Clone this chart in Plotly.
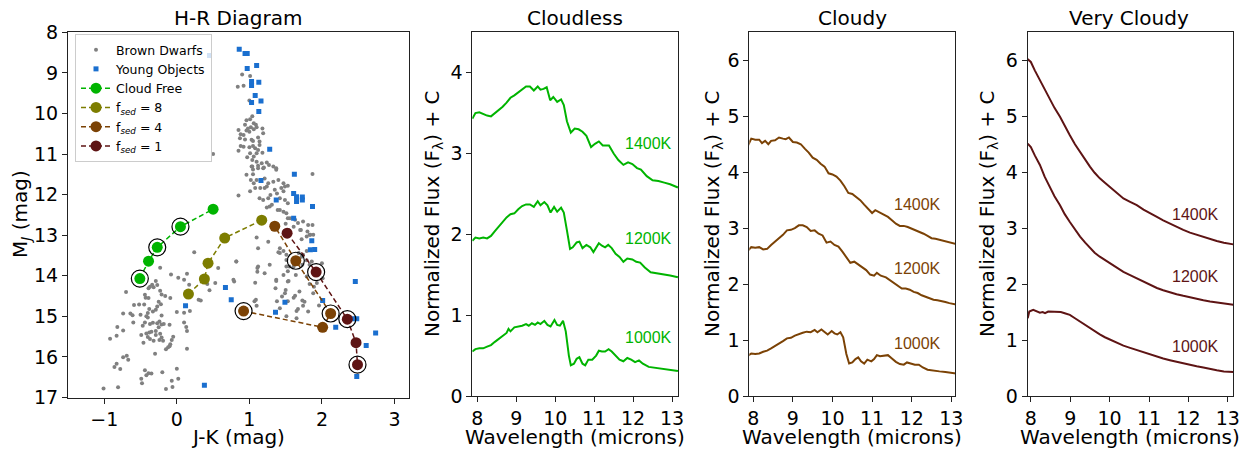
import plotly.graph_objects as go

# ---------------- DATA ----------------
brown_dwarfs = [
    (-0.08,13.97),(0.02,14.05),(0.14,13.95),(0.10,14.10),(0.17,14.22),(-0.34,14.22),(-0.37,14.27),(-0.39,14.31),
    (-0.29,14.13),(-0.27,14.23),(-0.32,14.28),(-0.70,14.40),(-0.23,14.37),(-0.21,14.46),(-0.16,14.50),(-0.09,14.55),
    (-0.25,14.64),(-0.22,14.70),(-0.27,14.76),(-0.44,14.47),(-0.43,14.54),(-0.39,14.55),(-0.59,14.72),(-0.52,14.71),
    (-0.45,14.71),(-0.38,14.82),(-0.40,14.92),(-0.33,14.88),(-0.29,14.84),(-0.74,14.93),(-0.64,14.93),(-0.61,14.97),
    (-0.50,14.96),(-0.42,15.00),(-0.40,15.03),(-0.21,14.98),(0.00,14.89),(0.10,14.91),(0.18,14.87),(-0.60,15.15),
    (-0.44,15.15),(-0.37,15.19),(-0.33,15.16),(-0.27,15.17),(-0.24,15.13),(-0.21,15.20),(-0.18,15.19),(-0.10,15.21),
    (-0.25,15.27),(-0.29,15.36),(-0.47,15.23),(-0.82,15.26),(-0.74,15.35),(0.10,15.15),(0.13,15.26),(0.14,15.36),
    (-0.92,15.55),(-0.83,15.48),(-0.49,15.46),(-0.42,15.42),(-0.38,15.40),(-0.35,15.38),(-0.40,15.51),(-0.37,15.56),
    (-0.29,15.46),(-0.23,15.43),(-0.21,15.52),(-0.19,15.60),(-0.24,15.58),(-0.32,15.60),(-0.46,15.65),(-0.05,15.50),
    (-0.07,15.58),(-0.09,15.69),(-0.12,15.76),(-0.15,15.81),(-0.10,15.74),(0.14,15.80),(-0.30,15.92),(-0.74,16.01),
    (-0.69,15.97),(-0.67,16.07),(-0.83,16.17),(-0.86,16.25),(-0.78,16.30),(-0.44,16.33),(-0.39,16.40),(-0.42,16.45),
    (-0.35,16.41),(-0.20,16.38),(0.00,16.29),(0.02,16.54),(-0.07,16.59),(-0.49,16.54),(-0.48,16.65),(-1.01,16.78),
    (-0.81,16.75),(-0.15,16.79),(-0.06,16.74),
    (0.42,14.20),(0.53,14.18),(0.45,14.36),(0.79,14.14),(0.30,14.59),(0.33,14.61),(1.07,14.63),(1.10,14.74),
    (1.37,14.13),(1.36,14.31),(1.50,14.35),(1.54,14.13),(1.63,14.49),(1.61,14.54),(1.53,14.63),(1.73,14.61),
    (1.76,14.64),(1.74,14.74),(1.67,14.82),(1.65,14.87),(1.81,14.88),(1.96,14.73),(1.83,14.20),(1.89,14.27),(1.65,15.05),
    (0.24,13.42),(-0.23,13.80),(0.82,13.65),(0.57,13.81),(0.18,14.43),(1.11,13.81),(1.11,13.90),(1.08,14.17),
    (1.09,14.59),(0.50,11.00),(1.88,14.43),(1.69,14.39),(1.49,14.43),(1.51,15.00),(1.42,14.80),(1.38,14.63),(1.45,14.51),
    (0.90,9.04),(1.01,9.08),(0.84,9.34),(0.92,9.32),(1.00,9.68),(1.04,10.07),(1.01,10.14),(0.96,10.17),
    (1.06,10.24),(1.09,10.28),(0.94,10.28),(0.98,10.37),(1.02,10.34),(0.96,10.42),(0.85,10.41),(0.88,10.51),
    (0.92,10.53),(1.00,10.45),(1.06,10.39),(1.10,10.34),(1.18,10.37),(1.19,10.49),(0.87,10.61),(0.94,10.64),
    (1.03,10.65),(1.05,10.68),(1.12,10.59),(1.14,10.69),(0.92,10.82),(0.88,10.80),(1.00,10.83),(1.05,10.80),
    (1.08,10.86),(1.12,10.90),(1.14,10.78),(0.85,10.92),(1.01,10.98),(1.10,10.98),(1.18,10.97),(1.06,11.06),
    (0.97,11.08),(1.04,11.15),(1.10,11.19),(1.17,11.23),(1.24,11.21),(1.03,11.31),(1.12,11.29),(1.19,11.35),
    (1.27,11.27),(1.33,11.31),(1.37,11.35),(1.05,11.38),
    (1.04,11.31),(1.12,11.35),(1.20,11.33),(1.37,11.39),(0.96,11.51),(1.05,11.50),(1.10,11.64),(1.21,11.60),
    (1.26,11.72),(1.33,11.68),(1.40,11.64),(1.47,11.72),(1.53,11.78),(1.44,11.84),(1.35,11.88),(1.21,11.84),
    (1.08,11.84),(1.01,11.92),(0.85,12.02),(1.14,12.09),(1.26,12.09),(1.42,12.09),(1.49,12.13),(1.53,12.21),
    (1.31,12.25),(1.24,12.32),(1.39,12.38),(1.47,12.42),(1.51,12.46),(1.53,12.58),(1.63,12.62),(1.67,12.70),
    (1.74,12.66),(1.81,12.75),(1.87,12.75),(1.71,12.87),(1.80,12.91),(1.83,12.99),(1.88,12.99),(1.79,13.03),
    (1.10,13.06),(1.26,13.16),(1.12,13.32),(1.42,13.32),(1.40,13.42),(1.47,13.39),(1.51,13.48),(1.74,13.48),
    (1.79,13.39),(1.86,13.65),(1.83,13.73),(1.73,13.73),(1.51,13.77),(1.53,13.89),(1.47,13.98),(0.82,13.65),
    (1.12,13.77),(1.28,13.73),(1.37,14.10),(0.78,14.10),(1.53,14.14),(1.64,13.98),(1.79,14.02),(1.21,13.94),
    (1.87,11.49),(1.02,11.64),(1.06,11.72),(1.15,11.84),(1.24,11.80),(1.29,12.01),(1.38,11.97),(1.47,11.92),
    (1.49,11.80),(1.19,12.13),(1.28,12.29),(1.42,12.38),(1.50,12.72),(1.54,12.87),(1.56,12.58),(1.61,12.79),
    (1.70,12.87),(1.72,13.10),(1.84,12.99),(1.68,13.44),(1.72,13.53),(1.79,13.62),(2.00,13.69),(2.01,14.06),
    (1.93,14.18),(1.55,13.77),(1.51,13.61),(1.42,13.44),(1.61,13.77),
]

young_objects = [
    (0.86,8.42),(0.94,8.52),(0.97,8.52),(0.45,8.57),(0.97,8.89),(1.10,8.82),(1.03,9.21),(1.03,9.31),
    (1.13,9.23),(1.08,9.56),(1.16,9.69),(1.03,9.73),(1.13,9.95),(1.28,10.88),(1.16,11.65),(1.62,11.50),
    (1.61,11.97),(1.65,12.05),(1.65,12.17),(1.73,12.06),(1.73,12.13),(1.37,12.13),(1.87,12.29),(1.61,12.58),
    (1.86,13.14),(1.84,13.36),(1.90,13.35),(2.46,14.14),(0.67,14.29),(0.75,14.59),(0.12,14.74),(1.49,14.65),
    (1.36,14.90),(2.44,15.06),(2.48,15.06),(2.19,15.27),(2.74,15.41),(2.61,15.72),(2.48,16.48),(0.38,16.70),
    (2.01,14.61),
]

model_names = ["Cloud Free", "f<sub><i>sed</i></sub> = 8", "f<sub><i>sed</i></sub> = 4", "f<sub><i>sed</i></sub> = 1"]
model_jk = [
    [-0.51, -0.39, -0.27, 0.05, 0.50],
    [0.16, 0.38, 0.43, 0.66, 1.17],
    [0.92, 2.01, 2.12, 1.64, 1.35],
    [1.52, 1.92, 2.35, 2.47, 2.49],
]
model_mj = [
    [14.07, 13.64, 13.30, 12.79, 12.36],
    [14.45, 14.08, 13.69, 13.07, 12.63],
    [14.87, 15.27, 14.93, 13.63, 12.78],
    [12.95, 13.91, 15.07, 15.65, 16.19],
]
circled_idx = [[0, 2, 3], [], [0, 2, 3], [1, 2, 4]]

cloudless_1400 = [(7.87,3.43),(7.95,3.50),(8.05,3.51),(8.15,3.49),(8.25,3.47),(8.35,3.46),(8.45,3.50),(8.55,3.53),
    (8.65,3.58),(8.75,3.63),(8.85,3.69),(8.95,3.72),(9.05,3.76),(9.15,3.80),(9.25,3.83),(9.35,3.83),(9.45,3.78),
    (9.55,3.83),(9.62,3.79),(9.70,3.80),(9.78,3.82),(9.87,3.66),(9.95,3.70),(10.05,3.64),(10.15,3.67),(10.22,3.60),
    (10.30,3.40),(10.40,3.26),(10.50,3.31),(10.60,3.30),(10.70,3.27),(10.80,3.22),(10.92,3.08),(11.02,3.12),
    (11.12,3.15),(11.22,3.10),(11.30,3.10),(11.38,3.10),(11.50,3.00),(11.62,2.92),(11.75,2.86),(11.87,2.89),
    (11.98,2.87),(12.10,2.82),(12.20,2.80),(12.35,2.72),(12.50,2.67),(12.65,2.66),(12.80,2.64),(12.95,2.62),(13.15,2.58)]
cloudless_1200 = [(7.87,1.92),(7.95,1.96),(8.05,1.95),(8.15,1.96),(8.25,1.95),(8.35,1.98),(8.45,2.04),(8.55,2.10),
    (8.65,2.16),(8.75,2.21),(8.85,2.25),(8.95,2.26),(9.05,2.31),(9.15,2.35),(9.25,2.37),(9.35,2.37),(9.45,2.34),
    (9.55,2.41),(9.62,2.36),(9.72,2.40),(9.80,2.36),(9.88,2.27),(9.97,2.34),(10.05,2.28),(10.15,2.33),(10.22,2.27),
    (10.30,2.05),(10.38,1.82),(10.45,1.84),(10.55,1.90),(10.62,1.91),(10.70,1.83),(10.80,1.87),(10.90,1.84),
    (10.98,1.78),(11.05,1.83),(11.12,1.89),(11.20,1.86),(11.28,1.84),(11.36,1.87),(11.45,1.83),(11.55,1.76),
    (11.65,1.72),(11.75,1.66),(11.85,1.70),(11.98,1.69),(12.08,1.66),(12.18,1.65),(12.30,1.59),(12.45,1.53),
    (12.60,1.52),(12.75,1.51),(12.95,1.49),(13.15,1.47)]
cloudless_1000 = [(7.87,0.55),(7.95,0.58),(8.05,0.59),(8.15,0.59),(8.25,0.61),(8.35,0.63),(8.45,0.67),(8.55,0.71),
    (8.65,0.75),(8.75,0.78),(8.80,0.83),(8.85,0.80),(8.95,0.85),(9.05,0.86),(9.15,0.87),(9.25,0.89),(9.32,0.87),
    (9.40,0.90),(9.48,0.88),(9.55,0.91),(9.62,0.89),(9.72,0.93),(9.80,0.88),(9.88,0.86),(9.98,0.94),(10.05,0.88),
    (10.12,0.87),(10.20,0.93),(10.27,0.80),(10.35,0.50),(10.40,0.38),(10.48,0.40),(10.55,0.46),(10.62,0.48),
    (10.70,0.40),(10.77,0.38),(10.85,0.45),(10.95,0.45),(11.05,0.50),(11.12,0.56),(11.20,0.55),(11.28,0.55),
    (11.37,0.58),(11.45,0.55),(11.55,0.50),(11.65,0.45),(11.75,0.43),(11.85,0.47),(11.95,0.45),(12.05,0.42),
    (12.15,0.44),(12.25,0.40),(12.40,0.36),(12.55,0.35),(12.70,0.34),(12.85,0.33),(13.00,0.32),(13.15,0.31)]

cloudy_1400 = [(7.87,4.48),(7.95,4.60),(8.05,4.58),(8.15,4.58),(8.22,4.52),(8.30,4.56),(8.38,4.50),(8.45,4.56),
    (8.55,4.57),(8.65,4.62),(8.75,4.60),(8.82,4.59),(8.90,4.62),(9.00,4.54),(9.10,4.53),(9.20,4.50),(9.30,4.42),
    (9.40,4.35),(9.50,4.26),(9.60,4.22),(9.70,4.15),(9.80,4.10),(9.90,3.98),(10.00,3.96),(10.10,3.92),(10.20,3.85),
    (10.30,3.75),(10.40,3.63),(10.50,3.61),(10.60,3.56),(10.70,3.50),(10.80,3.42),(10.90,3.35),(11.00,3.27),
    (11.08,3.32),(11.20,3.27),(11.30,3.24),(11.40,3.20),(11.50,3.14),(11.60,3.08),(11.70,3.04),(11.80,3.04),
    (11.90,3.02),(12.00,2.99),(12.10,2.96),(12.20,2.94),(12.30,2.90),(12.40,2.86),(12.50,2.82),(12.60,2.81),
    (12.70,2.79),(12.80,2.77),(12.90,2.76),(13.00,2.74),(13.15,2.71)]
cloudy_1200 = [(7.87,2.60),(7.95,2.66),(8.05,2.65),(8.15,2.66),(8.25,2.62),(8.35,2.63),(8.45,2.70),(8.55,2.76),
    (8.65,2.82),(8.75,2.88),(8.85,2.96),(8.95,2.97),(9.05,3.00),(9.15,3.05),(9.25,3.05),(9.35,3.02),(9.45,2.95),
    (9.55,2.96),(9.65,2.90),(9.75,2.87),(9.85,2.74),(9.95,2.76),(10.05,2.70),(10.15,2.67),(10.25,2.58),(10.35,2.47),
    (10.45,2.38),(10.55,2.40),(10.65,2.35),(10.75,2.30),(10.85,2.25),(10.95,2.17),(11.05,2.15),(11.12,2.20),
    (11.22,2.15),(11.35,2.12),(11.45,2.07),(11.55,2.02),(11.65,1.97),(11.75,1.92),(11.85,1.92),(11.95,1.90),
    (12.05,1.86),(12.15,1.84),(12.25,1.80),(12.35,1.77),(12.45,1.74),(12.55,1.72),(12.65,1.71),(12.75,1.70),
    (12.85,1.68),(12.95,1.66),(13.15,1.63)]
cloudy_1000 = [(7.87,0.72),(7.95,0.76),(8.05,0.75),(8.15,0.76),(8.25,0.79),(8.35,0.81),(8.45,0.85),(8.55,0.89),
    (8.65,0.94),(8.75,0.98),(8.85,1.03),(8.95,1.04),(9.05,1.08),(9.15,1.11),(9.25,1.13),(9.35,1.15),(9.45,1.14),
    (9.55,1.18),(9.62,1.14),(9.72,1.19),(9.80,1.15),(9.88,1.10),(9.98,1.16),(10.05,1.12),(10.12,1.10),(10.20,1.14),
    (10.27,1.05),(10.35,0.75),(10.42,0.58),(10.50,0.60),(10.58,0.66),(10.65,0.69),(10.72,0.62),(10.80,0.58),
    (10.88,0.65),(10.98,0.62),(11.05,0.66),(11.12,0.73),(11.20,0.71),(11.30,0.72),(11.40,0.73),(11.50,0.67),
    (11.60,0.61),(11.70,0.57),(11.80,0.56),(11.88,0.60),(11.98,0.58),(12.08,0.56),(12.18,0.56),(12.28,0.51),
    (12.40,0.47),(12.55,0.45),(12.70,0.44),(12.85,0.43),(13.00,0.41),(13.15,0.40)]

verycloudy_1400 = [(7.90,6.03),(8.00,5.97),(8.10,5.82),(8.23,5.64),(8.35,5.48),(8.48,5.32),(8.60,5.15),(8.74,4.99),
    (8.86,4.82),(8.99,4.66),(9.12,4.50),(9.25,4.36),(9.38,4.22),(9.50,4.10),(9.62,3.99),(9.75,3.89),(9.88,3.81),
    (10.00,3.74),(10.18,3.63),(10.35,3.53),(10.52,3.47),(10.69,3.41),(10.86,3.33),(11.03,3.26),(11.20,3.20),
    (11.36,3.14),(11.53,3.08),(11.70,3.02),(11.87,2.97),(12.04,2.92),(12.21,2.88),(12.38,2.85),(12.55,2.81),
    (12.72,2.77),(12.90,2.74),(13.14,2.71)]
verycloudy_1200 = [(7.92,4.51),(8.00,4.45),(8.10,4.30),(8.23,4.13),(8.35,3.92),(8.48,3.74),(8.60,3.57),(8.74,3.41),
    (8.86,3.25),(8.99,3.11),(9.12,2.97),(9.25,2.85),(9.38,2.74),(9.50,2.64),(9.62,2.56),(9.75,2.49),(9.88,2.43),
    (10.00,2.37),(10.18,2.29),(10.35,2.22),(10.52,2.16),(10.69,2.10),(10.86,2.04),(11.03,1.98),(11.20,1.93),
    (11.36,1.89),(11.53,1.85),(11.70,1.82),(11.87,1.79),(12.04,1.76),(12.21,1.73),(12.38,1.71),(12.55,1.69),
    (12.72,1.67),(12.90,1.65),(13.14,1.63)]
verycloudy_1000 = [(7.92,1.39),(7.96,1.51),(8.06,1.54),(8.15,1.52),(8.23,1.49),(8.30,1.50),(8.36,1.48),(8.44,1.51),
    (8.55,1.51),(8.65,1.51),(8.76,1.50),(8.86,1.48),(8.99,1.45),(9.12,1.39),(9.25,1.33),(9.38,1.27),(9.50,1.21),
    (9.62,1.15),(9.75,1.10),(9.88,1.05),(10.00,1.01),(10.18,0.96),(10.35,0.90),(10.52,0.86),(10.69,0.82),
    (10.86,0.78),(11.03,0.74),(11.20,0.71),(11.36,0.67),(11.53,0.64),(11.70,0.61),(11.87,0.58),(12.04,0.55),
    (12.21,0.53),(12.38,0.51),(12.55,0.48),(12.72,0.46),(12.90,0.44),(13.14,0.43)]

temp_labels = ["1400K", "1200K", "1000K"]
label_pos = {  # (wavelength, flux) for label centres per panel
    "cloudless": [(12.39, 3.12), (12.39, 1.95), (12.39, 0.73)],
    "cloudy": [(12.14, 3.43), (12.14, 2.28), (12.14, 0.94)],
    "verycloudy": [(12.19, 3.25), (12.19, 2.13), (12.19, 0.89)],
}

# ---------------- STYLE ----------------
W, H = 1249, 449
FONT = "DejaVu Sans"
GREEN = "#00b400"
OLIVE = "#7d7d00"
BROWN = "#7b4205"
DRED = "#5e1414"
BLUE = "#1a6fcf"
GREY = "#808080"
model_colors = [GREEN, OLIVE, BROWN, DRED]

def pxx(x):
    return x / W

def pxy(y):
    return 1 - y / H

fig = go.Figure()

# H-R diagram
fig.add_trace(go.Scatter(x=[p[0] for p in brown_dwarfs], y=[p[1] for p in brown_dwarfs], mode="markers",
                         name="Brown Dwarfs", marker=dict(color=GREY, size=4), xaxis="x", yaxis="y"))
fig.add_trace(go.Scatter(x=[p[0] for p in young_objects], y=[p[1] for p in young_objects], mode="markers",
                         name="Young Objects", marker=dict(color=BLUE, size=5, symbol="square"), xaxis="x", yaxis="y"))
for name, jk, mj, c in zip(model_names, model_jk, model_mj, model_colors):
    fig.add_trace(go.Scatter(x=jk, y=mj, mode="lines+markers", name=name,
                             line=dict(color=c, width=1.5, dash="5px,3px"),
                             marker=dict(color=c, size=11), xaxis="x", yaxis="y"))
ring_x, ring_y = [], []
for jk, mj, idx in zip(model_jk, model_mj, circled_idx):
    for i in idx:
        ring_x.append(jk[i]); ring_y.append(mj[i])
fig.add_trace(go.Scatter(x=ring_x, y=ring_y, mode="markers", showlegend=False,
                         marker=dict(symbol="circle-open", size=17, color="black", line=dict(width=1.2)),
                         xaxis="x", yaxis="y"))

panels = [
    ("2", [cloudless_1400, cloudless_1200, cloudless_1000], GREEN, "cloudless"),
    ("3", [cloudy_1400, cloudy_1200, cloudy_1000], BROWN, "cloudy"),
    ("4", [verycloudy_1400, verycloudy_1200, verycloudy_1000], DRED, "verycloudy"),
]
annotations = []
for ax, curves, c, key in panels:
    for cur in curves:
        fig.add_trace(go.Scatter(x=[p[0] for p in cur], y=[p[1] for p in cur], mode="lines",
                                 line=dict(color=c, width=2), showlegend=False,
                                 xaxis="x" + ax, yaxis="y" + ax))
    for txt, (lx, ly) in zip(temp_labels, label_pos[key]):
        annotations.append(dict(x=lx, y=ly, xref="x" + ax, yref="y" + ax, text=txt, showarrow=False,
                                font=dict(family="Liberation Sans", size=16, color=c)))

# titles and axis titles
def ann(x, y, text, angle=0, size=20):
    annotations.append(dict(x=pxx(x), y=pxy(y), xref="paper", yref="paper", text=text, showarrow=False,
                            textangle=angle, font=dict(family=FONT, size=size, color="black"),
                            xanchor="center", yanchor="middle"))

ann(238, 18, "H-R Diagram")
ann(575, 18, "Cloudless")
ann(852, 18, "Cloudy")
ann(1129, 18, "Very Cloudy")
ann(238, 437, "J-K (mag)")
ann(575, 437, "Wavelength (microns)")
ann(852, 437, "Wavelength (microns)")
ann(1130, 437, "Wavelength (microns)")
ann(21, 214, "M<sub><i>J</i></sub> (mag)", angle=-90)
ann(433, 214, "Normalized Flux (F<sub>λ</sub>) + C", angle=-90)
ann(713, 214, "Normalized Flux (F<sub>λ</sub>) + C", angle=-90)
ann(988, 214, "Normalized Flux (F<sub>λ</sub>) + C", angle=-90)

axis_common = dict(showline=True, mirror=True, linecolor="#222", linewidth=1, ticks="outside",
                   ticklen=5, tickwidth=1, tickcolor="#222", showgrid=False, zeroline=False,
                   automargin=False, tickfont=dict(family=FONT, size=19, color="black"))

ytop, ybot = pxy(32.3), pxy(397.5)
fig.update_layout(
    width=W, height=H, margin=dict(l=0, r=0, t=0, b=0, autoexpand=False),
    paper_bgcolor="white", plot_bgcolor="white",
    font=dict(family=FONT),
    xaxis=dict(domain=[pxx(68), pxx(409)], range=[-1.5, 3.2], tickvals=[-1, 0, 1, 2, 3], anchor="y", **axis_common),
    yaxis=dict(domain=[ybot, ytop], range=[17, 8], tickvals=list(range(8, 18)), anchor="x", **axis_common),
    xaxis2=dict(domain=[pxx(472.3), pxx(678.3)], range=[7.87, 13.16], tickvals=[8, 9, 10, 11, 12, 13], anchor="y2", **axis_common),
    yaxis2=dict(domain=[pxy(396), ytop], range=[0, 4.5], tickvals=[0, 1, 2, 3, 4], anchor="x2", **axis_common),
    xaxis3=dict(domain=[pxx(749.3), pxx(955.3)], range=[7.9, 13.1], tickvals=[8, 9, 10, 11, 12, 13], anchor="y3", **axis_common),
    yaxis3=dict(domain=[pxy(396), ytop], range=[0, 6.5], tickvals=[0, 1, 2, 3, 4, 5, 6], anchor="x3", **axis_common),
    xaxis4=dict(domain=[pxx(1027.7), pxx(1233.3)], range=[7.92, 13.14], tickvals=[8, 9, 10, 11, 12, 13], anchor="y4", **axis_common),
    yaxis4=dict(domain=[pxy(396), ytop], range=[0, 6.5], tickvals=[0, 1, 2, 3, 4, 5, 6], anchor="x4", **axis_common),
    legend=dict(x=pxx(75), y=pxy(34), xanchor="left", yanchor="top", bgcolor="rgba(255,255,255,0.8)",
                bordercolor="#cccccc", borderwidth=1, font=dict(family=FONT, size=12.5, color="black"),
                tracegroupgap=0, itemwidth=30),
    annotations=annotations,
)

fig.write_html("out.html")
